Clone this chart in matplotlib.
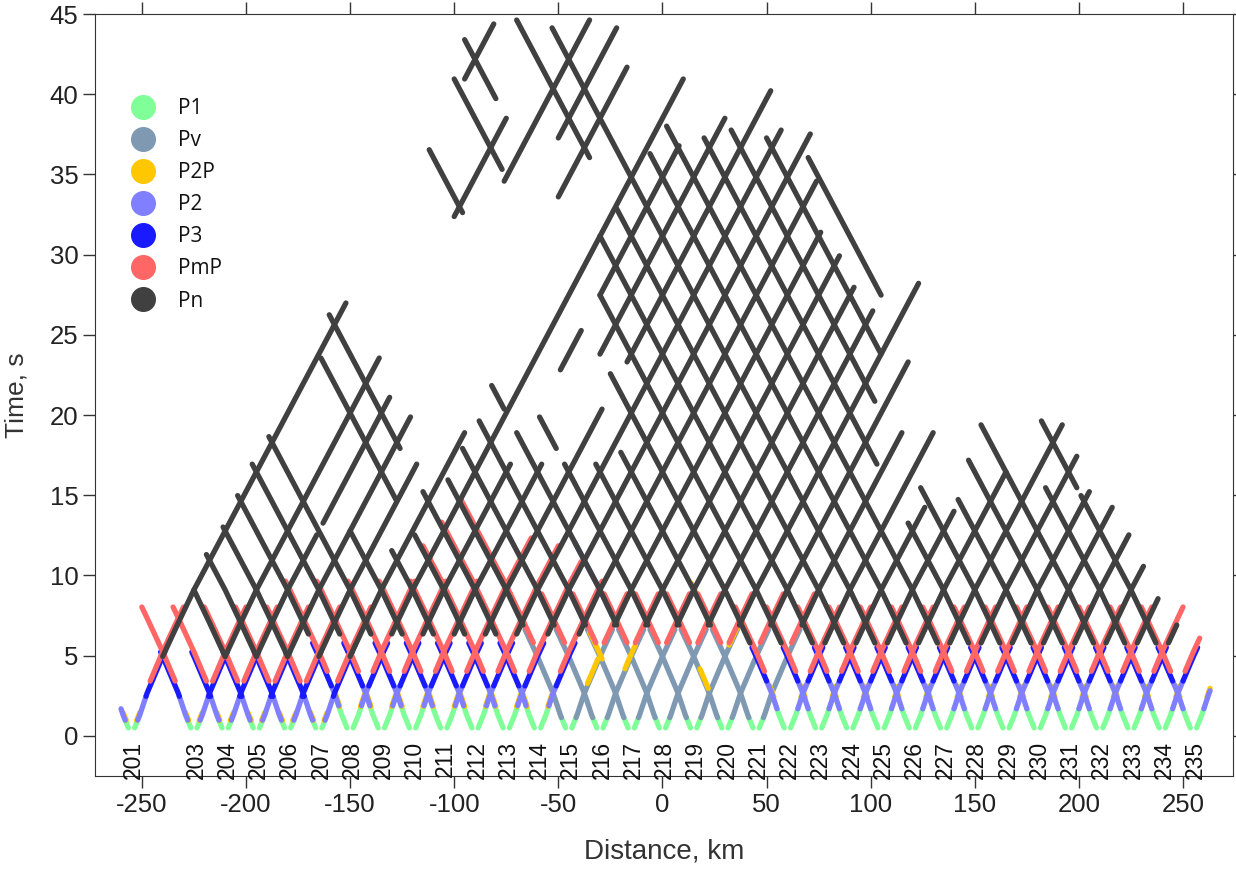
import numpy as np
import matplotlib
matplotlib.use("Agg")
import matplotlib.pyplot as plt
from matplotlib.lines import Line2D

plt.rcParams["axes.unicode_minus"] = False
plt.rcParams["font.family"] = ["Liberation Sans", "DejaVu Sans"]

# stations and their position along the profile (km)
stations = [201, 203, 204, 205, 206, 207, 208, 209, 210, 211, 212, 213, 214, 215, 216, 217,
            218, 219, 220, 221, 222, 223, 224, 225, 226, 227, 228, 229, 230, 231, 232, 233,
            234, 235]
station_km = [-255, -225, -210, -195, -180, -165, -150, -135, -120, -105, -90, -75, -60,
              -45, -30, -15, 0, 15, 30, 45, 60, 75, 90, 105, 120, 135, 150, 165, 180, 195,
              210, 225, 240, 255]
station_zone = ["A"] * 6 + ["B"] * 7 + ["C"] * 7 + ["D"] * 14

# travel time (offset km -> time s)
tt_offset = [1.5, 4, 7.5, 15, 22.5, 30, 260]
tt_time = [0.5, 1.3, 2.66, 4.95, 7.05, 9.1, 65.45]

phases = ["P1", "Pv", "P2P", "P2", "P3", "PmP", "Pn"]
phase_color = {"P1": "#80ff99", "Pv": "#7f99b2", "P2P": "#ffc700", "P2": "#7f7fff",
               "P3": "#1a1aff", "PmP": "#ff6666", "Pn": "#404040"}
phase_shift = {"P1": 0, "Pv": 0, "P2P": 0.15, "P2": 0, "P3": 0, "PmP": 0.3, "Pn": 0}

# offset spans (km) of the near phases on each arm, per zone
zone_spans = {
    "A": {"P1": (1.5, 3), "P2": (3, 7), "P2P": (2.5, 4), "P3": (7, 16), "PmP": (9, 25)},
    "B": {"P1": (1.5, 5.5), "P2": (5.5, 9), "P2P": (5, 7), "P3": (9, 18), "PmP": (11, 31)},
    "C": {"P1": (1.5, 3.5), "Pv": (3.5, 21), "PmP": (17, 28)},
    "D": {"P1": (1.5, 5), "P2": (5, 10), "P2P": (6.5, 8.5), "P3": (10, 17), "PmP": (11, 25)},
}
arm_limit = {(201, "L"): 5, (235, "R"): 8, (234, "R"): 18, (203, "L"): 25, (204, "L"): 25}

# Pn picks: offset intervals (km) to the right / left of each station
pn_right = {
    201: [(15, 103), (160, 174)], 203: [(15, 89), (125, 150)],
    204: [(15, 44), (47, 79), (134, 175)], 205: [(15, 74), (145, 173)],
    206: [(15, 62), (130, 163)], 207: [(15, 70)], 208: [(20, 160)],
    209: [(20, 62), (86, 96), (105, 143)], 210: [(20, 62), (90, 150)],
    211: [(20, 76), (88, 157)], 212: [(20, 147)], 213: [(20, 146)],
    214: [(20, 134)], 215: [(22, 121)], 216: [(22, 115)], 217: [(22, 107)],
    218: [(22, 101)], 219: [(22, 108)], 220: [(22, 88)], 221: [(22, 70)],
    222: [(18, 70)], 223: [(18, 51)], 224: [(18, 50)], 225: [(18, 60)], 226: [(18, 72)],
    227: [(18, 64)], 228: [(18, 55)], 229: [(18, 51)], 230: [(18, 44)], 231: [(18, 36)],
    232: [(18, 28)], 233: [(18, 22)],
}
pn_left = {
    205: [(15, 30)], 206: [(15, 39)], 207: [(15, 46)], 208: [(20, 54)], 209: [(20, 62)],
    210: [(20, 69)], 211: [(20, 45)], 212: [(20, 40)], 213: [(20, 44), (53, 89)],
    214: [(20, 55), (66, 100)], 215: [(22, 58)], 216: [(22, 66)], 217: [(22, 73)],
    218: [(22, 70), (76, 82)], 219: [(22, 62), (66, 74)], 220: [(22, 62), (126, 142)],
    221: [(22, 65)], 222: [(18, 85), (137, 160)], 223: [(18, 105), (155, 170)],
    224: [(18, 120)], 225: [(18, 127), (140, 175)], 226: [(18, 173)],
    227: [(18, 141)], 228: [(18, 148)], 229: [(18, 47), (62, 145)],
    230: [(18, 56), (78, 147)], 231: [(18, 53), (90, 145)], 232: [(18, 63), (105, 140)],
    233: [(18, 72)], 234: [(18, 56)], 235: [(18, 54), (56, 73)],
}
extra_picks = [(218, "L", "P2", (24, 42)), (221, "L", "P2P", (22, 31)),
               (211, "R", "PmP", (31, 42)), (212, "R", "PmP", (31, 40)),
               (213, "R", "PmP", (31, 36)), (213, "L", "PmP", (31, 40)),
               (214, "L", "PmP", (31, 46)), (215, "L", "PmP", (28, 52)),
               (216, "R", "P2P", (12, 17)), (217, "L", "P2P", (14, 20)),
               (219, "R", "P2P", (17, 23)), (220, "L", "P2P", (8, 12)),
               (215, "R", "P2P", (9, 14))]


def draw_branch(ax, x0, side, phase, o1, o2):
    if o2 <= o1:
        return
    offs = [o1] + [o for o in tt_offset if o1 < o < o2] + [o2]
    offs = np.array(offs)
    t = np.interp(offs, tt_offset, tt_time) + phase_shift[phase]
    sign = 1 if side == "R" else -1
    ax.plot(x0 + sign * offs, t, color=phase_color[phase], lw=3.8,
            solid_capstyle="round", zorder=phases.index(phase) + 1)


fig = plt.figure(figsize=(12.36, 8.71), dpi=100)
ax = fig.add_axes([95 / 1236, 95 / 871, 1138 / 1236, 762 / 871])

for n, x0, zone in zip(stations, station_km, station_zone):
    for side in ["L", "R"]:
        lim = arm_limit.get((n, side), 999)
        for phase, (o1, o2) in zone_spans[zone].items():
            draw_branch(ax, x0, side, phase, o1, min(o2, lim))
        picks = pn_right if side == "R" else pn_left
        for o1, o2 in picks.get(n, []):
            draw_branch(ax, x0, side, "Pn", o1, min(o2, lim))
    ax.text(x0 + 1, -0.3, str(n), rotation=90, ha="center", va="top", fontsize=16.5,
            color="#111111")

for n, side, phase, (o1, o2) in extra_picks:
    draw_branch(ax, station_km[stations.index(n)], side, phase, o1, o2)

ax.set_xlim(-272.5, 274)
ax.set_ylim(-2.5, 45)
ax.set_xticks(range(-250, 251, 50))
ax.set_yticks(range(0, 46, 5))
ax.tick_params(direction="out", length=8.5, width=1, top=True, right=True,
               labelsize=18.5, color="#333333", labelcolor="#222222")
for sp in ax.spines.values():
    sp.set_color("#333333")
ax.set_xlabel("Distance, km", fontsize=20, color="#333333")
ax.set_ylabel("Time, s", fontsize=19, color="#333333")
ax.xaxis.set_label_coords(0.5, -0.082)
ax.yaxis.set_label_coords(-0.058, 0.5)

handles = [Line2D([], [], ls="", marker="o", markersize=17, color=phase_color[p])
           for p in phases]
ax.legend(handles, phases, loc="upper left", bbox_to_anchor=(0.007, 0.914), frameon=False,
          prop={"family": "Open Sans", "size": 15}, labelspacing=0.53, handletextpad=0.7,
          labelcolor="#111111")

fig.savefig("out.png", dpi=100)
